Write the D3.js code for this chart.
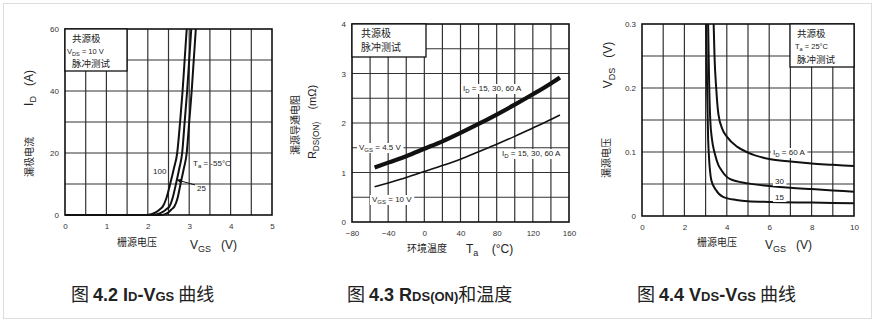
<!DOCTYPE html>
<html>
<head>
<meta charset="utf-8">
<script src="https://cdn.jsdelivr.net/npm/d3@7"></script>
<style>
  body { margin: 0; background: #fff; }
  text { font-family: "Liberation Sans", Arial, sans-serif; fill: #222; white-space: pre; }
  .cn { font-family: "Noto Sans CJK SC", sans-serif; }
  .tick text { font-size: 8px; fill: #333; }
</style>
</head>
<body>
<svg id="chart" width="875" height="324"></svg>
<script>
// ---- data ----
// fig 4.2  ID vs VGS, three ambient temperatures
var vgsTicks1 = [0, 1, 2, 3, 4, 5];
var idTicks1 = [0, 20, 40, 60];
var vgsGrid1 = [0.5, 1, 1.5, 2, 2.5, 3, 3.5, 4, 4.5];
var idGrid1 = [10, 20, 30, 40, 50];
var id100 = [[0, 0], [1.95, 0], [2.1, 0.3], [2.2, 0.9], [2.3, 1.9], [2.36, 2.7], [2.45, 5.5], [2.54, 10], [2.63, 15], [2.71, 20], [2.78, 30], [2.84, 40], [2.89, 50], [2.94, 60]];
var id25 = [[0, 0], [2.12, 0], [2.25, 0.3], [2.35, 0.9], [2.45, 1.9], [2.52, 2.7], [2.6, 5.5], [2.68, 10], [2.76, 15], [2.83, 20], [2.89, 30], [2.95, 40], [3.0, 50], [3.05, 60]];
var idM55 = [[0, 0], [2.3, 0], [2.42, 0.3], [2.5, 0.9], [2.58, 1.9], [2.64, 2.7], [2.72, 5.5], [2.79, 10], [2.87, 15], [2.94, 20], [3.0, 30], [3.06, 40], [3.11, 50], [3.16, 60]];

// fig 4.3  RDS(on) vs Ta
var taTicks = [-80, -40, 0, 40, 80, 120, 160];
var rdsTicks = [0, 1, 2, 3, 4];
var taGrid = [-60, -40, -20, 0, 20, 40, 60, 80, 100, 120, 140];
var rdsGrid = [0.5, 1, 1.5, 2, 2.5, 3, 3.5];
var rds45 = [[-55, 1.10], [-40, 1.20], [-20, 1.33], [0, 1.48], [20, 1.63], [40, 1.80], [60, 1.98], [80, 2.17], [100, 2.37], [120, 2.58], [140, 2.80], [150, 2.92]];
var rds10 = [[-55, 0.71], [-40, 0.79], [-20, 0.90], [0, 1.02], [20, 1.14], [40, 1.27], [60, 1.42], [80, 1.57], [100, 1.73], [120, 1.90], [140, 2.07], [150, 2.16]];

// fig 4.4  VDS vs VGS, three drain currents
var vgsTicks3 = [0, 2, 4, 6, 8, 10];
var vdsTicks = [0, 0.1, 0.2, 0.3];
var vgsGrid3 = [1, 2, 3, 4, 5, 6, 7, 8, 9];
var vdsGrid = [0.05, 0.1, 0.15, 0.2, 0.25];
var vds60 = [[3.38, 0.30], [3.42, 0.25], [3.5, 0.20], [3.6, 0.16], [3.8, 0.135], [4.0, 0.124], [4.5, 0.108], [5, 0.099], [6, 0.089], [7, 0.085], [8, 0.082], [9, 0.080], [10, 0.078]];
var vds30 = [[3.12, 0.30], [3.16, 0.22], [3.22, 0.15], [3.3, 0.12], [3.43, 0.098], [3.6, 0.08], [3.74, 0.072], [4.14, 0.058], [5, 0.051], [6, 0.047], [7, 0.044], [8, 0.042], [9, 0.040], [10, 0.038]];
var vds15 = [[3.03, 0.30], [3.07, 0.20], [3.12, 0.12], [3.15, 0.098], [3.27, 0.056], [3.48, 0.041], [3.82, 0.030], [4.45, 0.025], [5, 0.023], [6, 0.022], [8, 0.021], [10, 0.020]];

var svg = d3.select("#chart");

// card frame
svg.append("rect")
  .attr("x", 3.5).attr("y", 3.5).attr("width", 868).attr("height", 315)
  .attr("fill", "#fff").attr("stroke", "#ddd");

// draws grid, frame and tick labels, gives back the scales
function panel(o) {
  var x = d3.scaleLinear().domain(o.xd).range(o.xr);
  var y = d3.scaleLinear().domain(o.yd).range(o.yr);
  var g = svg.append("g");

  g.selectAll(".vg").data(o.xg).enter().append("line")
    .attr("x1", x).attr("x2", x)
    .attr("y1", o.yr[0]).attr("y2", o.yr[1])
    .attr("stroke", "#333").attr("stroke-width", 1.2);
  g.selectAll(".hg").data(o.yg).enter().append("line")
    .attr("y1", y).attr("y2", y)
    .attr("x1", o.xr[0]).attr("x2", o.xr[1])
    .attr("stroke", "#333").attr("stroke-width", 1.2);

  g.append("rect")
    .attr("x", o.xr[0]).attr("y", o.yr[1])
    .attr("width", o.xr[1] - o.xr[0]).attr("height", o.yr[0] - o.yr[1])
    .attr("fill", "none").attr("stroke", "#111").attr("stroke-width", 1.6);

  var ax = g.append("g").attr("transform", "translate(0," + o.yr[0] + ")")
    .call(d3.axisBottom(x).tickValues(o.xt).tickSize(0).tickPadding(8).tickFormat(o.xf || d3.format("")));
  ax.select(".domain").remove();
  ax.attr("font-family", null).attr("font-size", null);

  var ay = g.append("g").attr("transform", "translate(" + o.xr[0] + ",0)")
    .call(d3.axisLeft(y).tickValues(o.yt).tickSize(0).tickPadding(6).tickFormat(o.yf || d3.format("")));
  ay.select(".domain").remove();
  ay.attr("font-family", null).attr("font-size", null);

  return { x: x, y: y, g: g };
}

// text built from parts: [string, isSub]
function label(g, x, y, parts, size, boxed) {
  var t = g.append("text").attr("x", x).attr("y", y).attr("font-size", size);
  parts.forEach(function (p, i) {
    var s = t.append("tspan").text(p[0]);
    if (p[1]) s.attr("font-size", size * 0.75).attr("dy", size * 0.25);
    if (i > 0 && parts[i - 1][1] && !p[1]) s.attr("dy", -size * 0.25);
  });
  if (boxed) {
    var b = t.node().getBBox();
    g.insert("rect", function () { return t.node(); })
      .attr("x", b.x - 2).attr("y", b.y).attr("width", b.width + 4).attr("height", b.height)
      .attr("fill", "#fff");
  }
  return t;
}

function cn(g, x, y, str, size, anchor, rot) {
  var t = g.append("text").attr("class", "cn").attr("font-size", size)
    .attr("fill", "#333").text(str);
  if (rot) t.attr("transform", "translate(" + x + "," + y + ") rotate(-90)").attr("text-anchor", "middle").attr("dy", "0.35em");
  else t.attr("x", x).attr("y", y).attr("text-anchor", anchor || "start");
  return t;
}

function legendBox(g, x0, y0, x1, y1) {
  g.append("rect").attr("x", x0).attr("y", y0).attr("width", x1 - x0).attr("height", y1 - y0)
    .attr("fill", "#fff").attr("stroke", "#111").attr("stroke-width", 1.3);
}

function rotLabel(g, x, y, parts, size) {
  var t = g.append("text").attr("transform", "translate(" + x + "," + y + ") rotate(-90)")
    .attr("text-anchor", "middle").attr("dy", "0.35em").attr("font-size", size);
  parts.forEach(function (p, i) {
    var s = t.append("tspan").text(p[0]);
    if (p[1]) s.attr("font-size", size * 0.75).attr("dy", size * 0.25);
    if (i > 0 && parts[i - 1][1] && !p[1]) s.attr("dy", -size * 0.25);
  });
  return t;
}

var lineGen = function (p) {
  return d3.line().x(function (d) { return p.x(d[0]); }).y(function (d) { return p.y(d[1]); })
    .curve(d3.curveMonotoneX);
};

// ---------- fig 4.2 ----------
var p1 = panel({ xd: [0, 5], xr: [65, 272], yd: [0, 60], yr: [215, 29],
  xt: vgsTicks1, yt: idTicks1, xg: vgsGrid1, yg: idGrid1 });
[id100, id25, idM55].forEach(function (s) {
  p1.g.append("path").datum(s).attr("d", lineGen(p1))
    .attr("fill", "none").attr("stroke", "#111").attr("stroke-width", 2);
});
legendBox(p1.g, 65, 29, 127, 71);
cn(p1.g, 72, 42, "共源极", 9.5);
label(p1.g, 67, 54, [["V"], ["DS", 1], [" = 10 V"]], 7.5);
cn(p1.g, 72, 67, "脉冲测试", 9.5);
label(p1.g, 153, 174, [["100"]], 8);
label(p1.g, 193, 166, [["T"], ["a", 1], [" = -55°C"]], 8);
label(p1.g, 197, 191, [["25"]], 8);
svg.append("defs").append("marker").attr("id", "ah").attr("viewBox", "0 0 10 10")
  .attr("refX", 9).attr("refY", 5).attr("markerWidth", 5).attr("markerHeight", 5).attr("orient", "auto")
  .append("path").attr("d", "M0,0L10,5L0,10z").attr("fill", "#111");
p1.g.append("line")
  .attr("x1", p1.x(3.14)).attr("y1", p1.y(9.7)).attr("x2", p1.x(2.71)).attr("y2", p1.y(11.3))
  .attr("stroke", "#111").attr("stroke-width", 1).attr("marker-end", "url(#ah)");
rotLabel(svg, 29, 88, [["I"], ["D", 1], ["   (A)"]], 12);
cn(svg, 29, 157, "漏极电流", 10, null, true);
cn(svg, 137, 246, "栅源电压", 10, "middle");
label(svg, 190, 249, [["V"], ["GS", 1], ["   (V)"]], 12);

// ---------- fig 4.3 ----------
var p2 = panel({ xd: [-80, 160], xr: [352, 569], yd: [0, 4], yr: [222, 24],
  xt: taTicks, yt: rdsTicks, xg: taGrid, yg: rdsGrid });
p2.g.append("path").datum(rds45).attr("d", lineGen(p2))
  .attr("fill", "none").attr("stroke", "#111").attr("stroke-width", 4.2);
p2.g.append("path").datum(rds10).attr("d", lineGen(p2))
  .attr("fill", "none").attr("stroke", "#111").attr("stroke-width", 1.6);
legendBox(p2.g, 352, 24, 426, 57);
cn(p2.g, 361, 37, "共源极", 10);
cn(p2.g, 361, 51, "脉冲测试", 10);
label(p2.g, 359, 150, [["V"], ["GS", 1], [" = 4.5 V"]], 8, true);
label(p2.g, 372, 202, [["V"], ["GS", 1], [" = 10 V"]], 8, true);
label(p2.g, 463, 91, [["I"], ["D", 1], [" = 15, 30, 60 A"]], 8, true);
label(p2.g, 502, 156, [["I"], ["D", 1], [" = 15, 30, 60 A"]], 8, true);
cn(svg, 295, 125, "漏源导通电阻", 10, null, true);
rotLabel(svg, 312, 122, [["R"], ["DS(ON)", 1], ["    (mΩ)"]], 11);
cn(svg, 427, 252, "环境温度", 10, "middle");
label(svg, 466, 253, [["T"], ["a", 1], ["    (°C)"]], 12);

// ---------- fig 4.4 ----------
var p3 = panel({ xd: [0, 10], xr: [642, 854], yd: [0, 0.3], yr: [216, 24],
  xt: vgsTicks3, yt: vdsTicks, xg: vgsGrid3, yg: vdsGrid, yf: function (d) { return d === 0 ? "0" : d3.format(".1f")(d); } });
[vds60, vds30, vds15].forEach(function (s) {
  p3.g.append("path").datum(s).attr("d", lineGen(p3))
    .attr("fill", "none").attr("stroke", "#111").attr("stroke-width", 2);
});
legendBox(p3.g, 790, 24, 854, 67);
cn(p3.g, 797, 37, "共源极", 9.5);
label(p3.g, 795, 49, [["T"], ["a", 1], [" = 25°C"]], 7.5);
cn(p3.g, 797, 63, "脉冲测试", 9.5);
label(p3.g, 773, 155, [["I"], ["D", 1], [" = 60 A"]], 8, true);
label(p3.g, 775, 184, [["30"]], 8, true);
label(p3.g, 775, 200, [["15"]], 8, true);
rotLabel(svg, 608, 65, [["V"], ["DS", 1], ["   (V)"]], 12);
cn(svg, 606, 158, "漏源电压", 10, null, true);
cn(svg, 717, 246, "栅源电压", 10, "middle");
label(svg, 765, 249, [["V"], ["GS", 1], ["   (V)"]], 12);

// ---------- captions ----------
function caption(x, parts) {
  var t = svg.append("text").attr("x", x).attr("y", 301).attr("font-size", 18);
  parts.forEach(function (p) {
    var s = t.append("tspan").text(p[0]);
    if (p[1] === "cn") s.attr("class", "cn").style("font-family", "'Noto Sans CJK SC', sans-serif");
    else s.attr("font-weight", "bold");
    if (p[1] === "sm") s.attr("font-size", 13);
  });
}
caption(71, [["图 ", "cn"], ["4.2 I"], ["D", "sm"], ["-V"], ["GS", "sm"], [" 曲线", "cn"]]);
caption(347, [["图 ", "cn"], ["4.3 R"], ["DS(ON)", "sm"], ["和温度", "cn"]]);
caption(637, [["图 ", "cn"], ["4.4 V"], ["DS", "sm"], ["-V"], ["GS", "sm"], [" 曲线", "cn"]]);
</script>
</body>
</html>
